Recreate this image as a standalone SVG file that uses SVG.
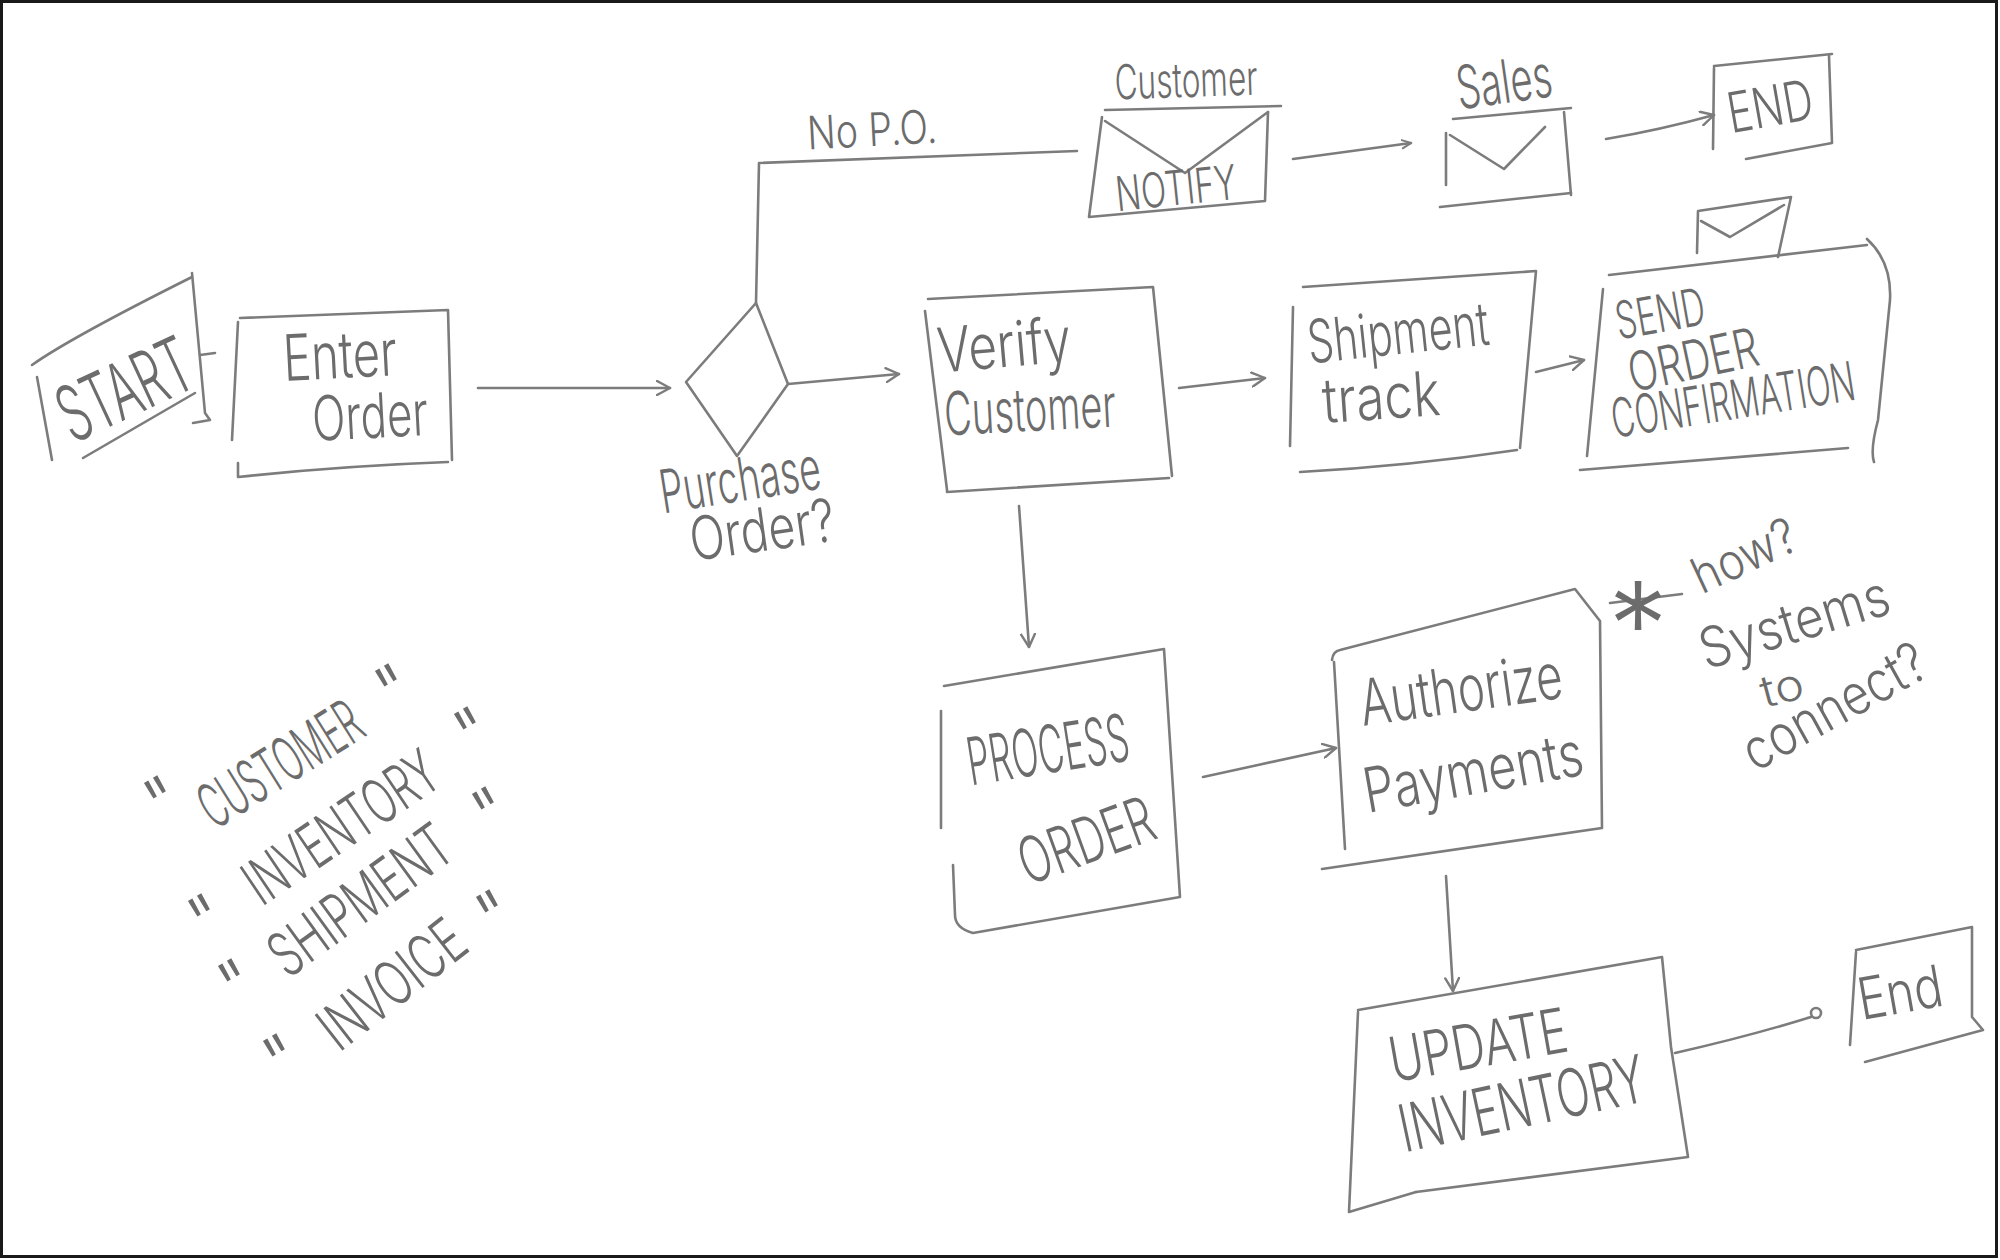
<svg xmlns="http://www.w3.org/2000/svg" width="2000" height="1260" viewBox="0 0 2000 1260">
<style>
.ln{fill:none;stroke:#7c7c7c;stroke-width:2.6;stroke-linecap:round;stroke-linejoin:round}
.t{font-family:Inter,"Open Sans","Liberation Sans",Arial,sans-serif;font-weight:300;fill:#6c6c6c;text-anchor:middle}
</style>
<defs>
<marker id="ah" viewBox="0 0 16 16" refX="14" refY="8" markerWidth="16" markerHeight="16" markerUnits="userSpaceOnUse" orient="auto">
<path d="M1,1 L14,8 L1,15" fill="none" stroke="#7c7c7c" stroke-width="2.4" stroke-linecap="round" stroke-linejoin="round"/>
</marker>
<marker id="ahs" viewBox="0 0 16 16" refX="14" refY="8" markerWidth="11" markerHeight="11" markerUnits="userSpaceOnUse" orient="auto">
<path d="M1,2 L14,8 L1,14" fill="none" stroke="#7c7c7c" stroke-width="3" stroke-linecap="round"/>
</marker>
</defs>
<rect x="0" y="0" width="2000" height="1260" fill="#ffffff"/>
<rect x="1.5" y="1.5" width="1995" height="1255" fill="none" stroke="#1a1a1a" stroke-width="3"/>

<g id="connectors" class="ln">
<path d="M478,388 L670,388" marker-end="url(#ah)"/>
<path d="M788,384 L899,374" marker-end="url(#ah)"/>
<path d="M756,303 L759,163 L1077,151"/>
<path d="M1293,159 L1411,143" marker-end="url(#ahs)"/>
<path d="M1606,139 Q1660,130 1714,115" marker-end="url(#ah)"/>
<path d="M1179,388 L1265,378" marker-end="url(#ah)"/>
<path d="M1536,372 L1584,360" marker-end="url(#ah)"/>
<path d="M1019,506 L1029,647" marker-end="url(#ah)"/>
<path d="M1203,777 L1336,748" marker-end="url(#ah)"/>
<path d="M1446,876 L1453,991" marker-end="url(#ah)"/>
<path d="M1675,1053 Q1750,1036 1811,1017"/>
<circle cx="1816" cy="1013" r="5"/>
<path d="M200,355 L215,353"/>
<text class="t" transform="translate(872,130) rotate(-3)" y="16" font-size="46" textLength="130" lengthAdjust="spacingAndGlyphs" style="stroke:none">No P.O.</text>
</g>

<g id="start">
<path class="ln" d="M37,377 L52,460"/>
<path class="ln" d="M32,365 Q70,338 192,277"/>
<path class="ln" d="M192,273 L205,413 L210,420 L193,423"/>
<path class="ln" d="M83,458 L195,393"/>
<text class="t" transform="translate(125,390) rotate(-25)" y="27" font-size="78" textLength="140" lengthAdjust="spacingAndGlyphs">START</text>
</g>

<g id="enter-order">
<path class="ln" d="M240,318 L448,310 L452,460"/>
<path class="ln" d="M238,322 L232,440"/>
<path class="ln" d="M238,463 L238,477 Q340,466 448,462"/>
<text class="t" transform="translate(340,356) rotate(-3)" y="22" font-size="64" textLength="114" lengthAdjust="spacingAndGlyphs">Enter</text>
<text class="t" transform="translate(370,416) rotate(-3)" y="22" font-size="62" textLength="116" lengthAdjust="spacingAndGlyphs">Order</text>
</g>

<g id="purchase-order">
<path class="ln" d="M756,303 L788,384 L737,456 L686,382 Z"/>
<text class="t" transform="translate(740,480) rotate(-9)" y="21" font-size="60" textLength="162" lengthAdjust="spacingAndGlyphs">Purchase</text>
<text class="t" transform="translate(762,530) rotate(-8)" y="21" font-size="60" textLength="146" lengthAdjust="spacingAndGlyphs">Order?</text>
</g>

<g id="verify-customer">
<path class="ln" d="M928,299 L1153,287 L1172,476"/>
<path class="ln" d="M925,311 L947,490 L947,492 L1169,478"/>
<text class="t" transform="translate(1004,345) rotate(-5)" y="22" font-size="62" textLength="134" lengthAdjust="spacingAndGlyphs">Verify</text>
<text class="t" transform="translate(1030,410) rotate(-3)" y="21" font-size="60" textLength="172" lengthAdjust="spacingAndGlyphs">Customer</text>
</g>

<g id="customer-notify">
<path class="ln" d="M1105,110 L1281,106"/>
<path class="ln" d="M1102,117 L1089,217 L1265,201 L1268,112"/>
<path class="ln" d="M1105,121 L1185,173 L1268,112"/>
<text class="t" transform="translate(1186,80) rotate(-2)" y="17" font-size="48" textLength="143" lengthAdjust="spacingAndGlyphs">Customer</text>
<text class="t" transform="translate(1176,188) rotate(-6)" y="17" font-size="48" textLength="121" lengthAdjust="spacingAndGlyphs">NOTIFY</text>
</g>

<g id="sales">
<path class="ln" d="M1453,119 L1571,108"/>
<path class="ln" d="M1446,133 L1446,185"/>
<path class="ln" d="M1564,112 L1571,195"/>
<path class="ln" d="M1440,207 L1571,193"/>
<path class="ln" d="M1450,135 L1504,169 L1545,127"/>
<text class="t" transform="translate(1504,82) rotate(-8)" y="21" font-size="60" textLength="96" lengthAdjust="spacingAndGlyphs">Sales</text>
</g>

<g id="end-top">
<path class="ln" d="M1714,66 L1832,54"/>
<path class="ln" d="M1714,68 L1713,149"/>
<path class="ln" d="M1829,56 L1832,143 L1746,159"/>
<text class="t" transform="translate(1770,106) rotate(-10)" y="20" font-size="56" textLength="86" lengthAdjust="spacingAndGlyphs">END</text>
</g>

<g id="shipment-track">
<path class="ln" d="M1303,287 L1536,271 L1520,448"/>
<path class="ln" d="M1293,307 L1290,446"/>
<path class="ln" d="M1300,472 Q1410,466 1517,450"/>
<text class="t" transform="translate(1398,332) rotate(-6)" y="22" font-size="60" textLength="182" lengthAdjust="spacingAndGlyphs">Shipment</text>
<text class="t" transform="translate(1381,397) rotate(-4)" y="22" font-size="62" textLength="118" lengthAdjust="spacingAndGlyphs">track</text>
</g>

<g id="send-order-confirmation">
<path class="ln" d="M1609,275 L1867,245"/>
<path class="ln" d="M1867,239 Q1892,262 1890,300 L1878,420 Q1870,450 1874,462"/>
<path class="ln" d="M1603,289 L1587,456"/>
<path class="ln" d="M1580,470 L1848,448"/>
<path class="ln" d="M1697,253 L1698,211 L1791,197 L1778,257"/>
<path class="ln" d="M1701,221 L1730,237 L1784,205"/>
<text class="t" transform="translate(1660,313) rotate(-10)" y="19" font-size="52" textLength="90" lengthAdjust="spacingAndGlyphs">SEND</text>
<text class="t" transform="translate(1693,360) rotate(-12)" y="19" font-size="54" textLength="132" lengthAdjust="spacingAndGlyphs">ORDER</text>
<text class="t" transform="translate(1733,400) rotate(-9)" y="19" font-size="54" textLength="246" lengthAdjust="spacingAndGlyphs">CONFIRMATION</text>
</g>

<g id="process-order">
<path class="ln" d="M944,686 L1164,649 L1180,897 L973,933 Q955,928 955,915 L953,865"/>
<path class="ln" d="M941,711 L941,828"/>
<text class="t" transform="translate(1048,750) rotate(-9)" y="23" font-size="66" textLength="163" lengthAdjust="spacingAndGlyphs">PROCESS</text>
<text class="t" transform="translate(1086,840) rotate(-20)" y="23" font-size="64" textLength="140" lengthAdjust="spacingAndGlyphs">ORDER</text>
</g>

<g id="authorize-payments">
<path class="ln" d="M1332,660 Q1333,651 1340,650 L1575,589 L1600,621 L1602,828 L1322,869"/>
<path class="ln" d="M1334,662 L1345,849"/>
<text class="t" transform="translate(1461,690) rotate(-8)" y="22" font-size="64" textLength="204" lengthAdjust="spacingAndGlyphs">Authorize</text>
<text class="t" transform="translate(1473,772) rotate(-10)" y="22" font-size="62" textLength="222" lengthAdjust="spacingAndGlyphs">Payments</text>
</g>

<g id="note-systems">
<path class="ln" d="M1610,603 L1682,594"/>
<text class="t" x="1638" y="668" font-size="120">*</text>
<text class="t" transform="translate(1744,555) rotate(-25)" y="18" font-size="50" textLength="110" lengthAdjust="spacingAndGlyphs">how?</text>
<text class="t" transform="translate(1794,622) rotate(-17)" y="20" font-size="56" textLength="196" lengthAdjust="spacingAndGlyphs">Systems</text>
<text class="t" transform="translate(1782,688) rotate(-15)" y="15" font-size="44" textLength="43" lengthAdjust="spacingAndGlyphs">to</text>
<text class="t" transform="translate(1834,706) rotate(-29)" y="20" font-size="56" textLength="202" lengthAdjust="spacingAndGlyphs">connect?</text>
</g>

<g id="update-inventory">
<path class="ln" d="M1358,1010 L1662,957 L1671,1047 L1688,1157 L1416,1192"/>
<path class="ln" d="M1358,1012 L1349,1212 L1416,1192"/>
<text class="t" transform="translate(1478,1045) rotate(-10)" y="22" font-size="62" textLength="180" lengthAdjust="spacingAndGlyphs">UPDATE</text>
<text class="t" transform="translate(1522,1104) rotate(-12)" y="23" font-size="66" textLength="250" lengthAdjust="spacingAndGlyphs">INVENTORY</text>
</g>

<g id="end-bottom">
<path class="ln" d="M1856,950 L1972,927 L1972,1017 L1983,1030 L1865,1062"/>
<path class="ln" d="M1856,952 L1850,1045"/>
<text class="t" transform="translate(1900,992) rotate(-10)" y="21" font-size="58" textLength="85" lengthAdjust="spacingAndGlyphs">End</text>
</g>

<g id="entity-list">
<text class="t" transform="translate(155,787) rotate(-30)" y="42" font-size="70">"</text>
<text class="t" transform="translate(280,764) rotate(-32)" y="22" font-size="62" textLength="181" lengthAdjust="spacingAndGlyphs">CUSTOMER</text>
<text class="t" transform="translate(386,675) rotate(-30)" y="42" font-size="70">"</text>
<text class="t" transform="translate(199,905) rotate(-30)" y="42" font-size="70">"</text>
<text class="t" transform="translate(341,827) rotate(-34)" y="22" font-size="62" textLength="221" lengthAdjust="spacingAndGlyphs">INVENTORY</text>
<text class="t" transform="translate(465,718) rotate(-30)" y="42" font-size="70">"</text>
<text class="t" transform="translate(229,970) rotate(-30)" y="42" font-size="70">"</text>
<text class="t" transform="translate(360,900) rotate(-36)" y="22" font-size="62" textLength="210" lengthAdjust="spacingAndGlyphs">SHIPMENT</text>
<text class="t" transform="translate(483,798) rotate(-30)" y="42" font-size="70">"</text>
<text class="t" transform="translate(274,1045) rotate(-30)" y="42" font-size="70">"</text>
<text class="t" transform="translate(392,984) rotate(-38)" y="22" font-size="62" textLength="168" lengthAdjust="spacingAndGlyphs">INVOICE</text>
<text class="t" transform="translate(487,901) rotate(-30)" y="42" font-size="70">"</text>
</g>
</svg>
